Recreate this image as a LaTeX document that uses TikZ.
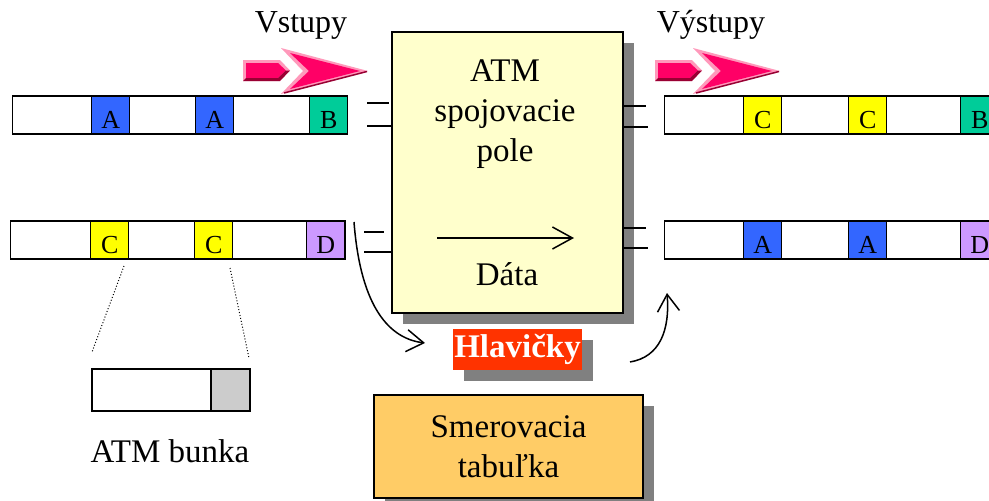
\documentclass[tikz,border=0pt]{standalone}
\usepackage{fontspec}
\setmainfont{Liberation Serif}
\usetikzlibrary{arrows.meta,shadows}

\definecolor{cellblue}{HTML}{3366FF}
\definecolor{cellgreen}{HTML}{00CC99}
\definecolor{cellyellow}{HTML}{FFFF00}
\definecolor{cellviolet}{HTML}{CC99FF}
\definecolor{cellgray}{HTML}{CCCCCC}
\definecolor{boxyellow}{HTML}{FFFFCC}
\definecolor{boxorange}{HTML}{FFCC66}
\definecolor{hdrred}{HTML}{FF3300}
\definecolor{shadowgray}{HTML}{808080}
\definecolor{pinkmain}{HTML}{FF0066}
\definecolor{pinklight}{HTML}{FF99BB}
\definecolor{pinkdark}{HTML}{990033}

\tikzset{
  bigtext/.style={font=\fontsize{33}{40}\selectfont},
  headtext/.style={font=\fontsize{32}{40}\selectfont},
  stream/.style={draw, line width=1.4pt, fill=white, minimum height=38pt,
    inner sep=0pt, anchor=west},
  cell/.style={draw, line width=1.4pt, minimum width=38pt, minimum height=38pt,
    inner sep=0pt, anchor=west, text height=26pt, text depth=0pt,
    font=\fontsize{26}{26}\selectfont},
  shade box/.style={drop shadow={shadow xshift=11pt, shadow yshift=-11pt,
    fill=shadowgray, opacity=1}},
  stub/.style={line width=1.4pt},
  flow/.style={line width=1.5pt, -{Straight Barb[length=17pt, width=22pt, line width=1.5pt]}},
  pinkarrow/.pic={
    % tail
    \fill[pinklight] (243,60) -- (280,60) -- (290,70.5) -- (280,81) -- (243,81) -- cycle;
    \fill[pinkmain] (246,63) -- (278,63) -- (286,70.5) -- (278,78) -- (246,78) -- cycle;
    \fill[pinkdark] (246,78) -- (278,78) -- (286,70.5) -- (290,70.5) -- (280,81) -- (243,81) -- cycle;
    % head
    \fill[pinklight] (281,48) -- (368,71) -- (281,94) -- (303,71) -- cycle;
    \fill[pinkmain] (290,53) -- (360,71) -- (290,89) -- (309,71) -- cycle;
    \draw[pinkdark, line width=1.5pt] (367,71.5) -- (284,93);
  }
}

\begin{document}
\begin{tikzpicture}[x=1pt, y=-1pt]
\useasboundingbox (0,0) rectangle (989,501);
\clip (0,0) rectangle (989,501);

% headings and direction arrows
\node[headtext] (vstupy) at (301,25) {Vstupy};
\node[headtext] (vystupy) at (711,25) {Výstupy};
\pic at (0,0) {pinkarrow};
\pic at (412,0) {pinkarrow};

% input cell streams
\node[stream, minimum width=335pt] (inA) at (12,115) {};
\node[cell, fill=cellblue]  (inA1) at (91,115)  {A};
\node[cell, fill=cellblue]  (inA2) at (195,115) {A};
\node[cell, fill=cellgreen] (inA3) at (309,115) {B};

\node[stream, minimum width=335pt] (inB) at (10,240) {};
\node[cell, fill=cellyellow] (inB1) at (90,240)  {C};
\node[cell, fill=cellyellow] (inB2) at (194,240) {C};
\node[cell, fill=cellviolet] (inB3) at (306,240) {D};

% output cell streams
\node[stream, minimum width=340pt] (outA) at (664,115) {};
\node[cell, fill=cellyellow] (outA1) at (743,115) {C};
\node[cell, fill=cellyellow] (outA2) at (848,115) {C};
\node[cell, fill=cellgreen]  (outA3) at (960,115) {B};

\node[stream, minimum width=340pt] (outB) at (664,240) {};
\node[cell, fill=cellblue]   (outB1) at (743,240) {A};
\node[cell, fill=cellblue]   (outB2) at (848,240) {A};
\node[cell, fill=cellviolet] (outB3) at (960,240) {D};

% switching fabric
\node[draw, line width=1.5pt, fill=boxyellow, shade box, minimum width=231pt,
  minimum height=281pt, inner sep=0pt] (switch) at (507.5,172.5) {};
\node[bigtext, align=center] (switchlbl) at (505,114) {ATM\\spojovacie\\pole};
\node[bigtext] (data) at (507,274) {Dáta};
\coordinate (d1) at (437,238);
\coordinate (d2) at (574,238);
\draw[line width=1.5pt, -{Straight Barb[length=20pt, width=22pt, line width=1.5pt]}] (d1) -- (d2);

% port stubs
\coordinate (pa1) at (367,103); \coordinate (pa2) at (389,103);
\coordinate (pa3) at (367,126); \coordinate (pa4) at (392,126);
\coordinate (pb1) at (364,232); \coordinate (pb2) at (384,232);
\coordinate (pb3) at (364,252); \coordinate (pb4) at (392,252);
\coordinate (qa1) at (623,106); \coordinate (qa2) at (646,106);
\coordinate (qa3) at (623,127); \coordinate (qa4) at (648,127);
\coordinate (qb1) at (623,228); \coordinate (qb2) at (646,228);
\coordinate (qb3) at (623,248); \coordinate (qb4) at (648,248);
\foreach \a/\b in {pa1/pa2,pa3/pa4,pb1/pb2,pb3/pb4,qa1/qa2,qa3/qa4,qb1/qb2,qb3/qb4}
  \draw[stub] (\a) -- (\b);

% header processing
\node[fill=hdrred, text=white, font=\fontsize{33}{33}\selectfont\bfseries,
  shade box, minimum width=129pt, minimum height=41pt, inner sep=1pt]
  (hdr) at (517.5,349.5) {Hlavičky};
\coordinate (h1) at (354,222);
\coordinate (h2) at (425,343);
\draw[flow] (h1) .. controls (360,300) and (385,338) .. (h2);
\coordinate (h3) at (630,362);
\coordinate (h4) at (667,293);
\draw[flow] (h3) .. controls (660,357) and (670,330) .. (h4);

% routing table
\node[draw, line width=1.5pt, fill=boxorange, shade box, minimum width=269pt,
  minimum height=103pt, bigtext, align=center] (table) at (508.5,446.5)
  {Smerovacia\\tabuľka};

% single cell detail
\coordinate (z1) at (124,266); \coordinate (z2) at (92,352);
\coordinate (z3) at (230,268); \coordinate (z4) at (249,358);
\draw[dotted, line width=1pt] (z1) -- (z2);
\draw[dotted, line width=1pt] (z3) -- (z4);
\node[draw, line width=1.4pt, fill=white, minimum width=158pt, minimum height=42pt,
  inner sep=0pt] (cellbody) at (171,390) {};
\node[draw, line width=1.4pt, fill=cellgray, minimum width=39pt, minimum height=42pt,
  inner sep=0pt] (cellhdr) at (230.5,390) {};
\node[bigtext] (celllbl) at (170,451) {ATM bunka};
\end{tikzpicture}
\end{document}
